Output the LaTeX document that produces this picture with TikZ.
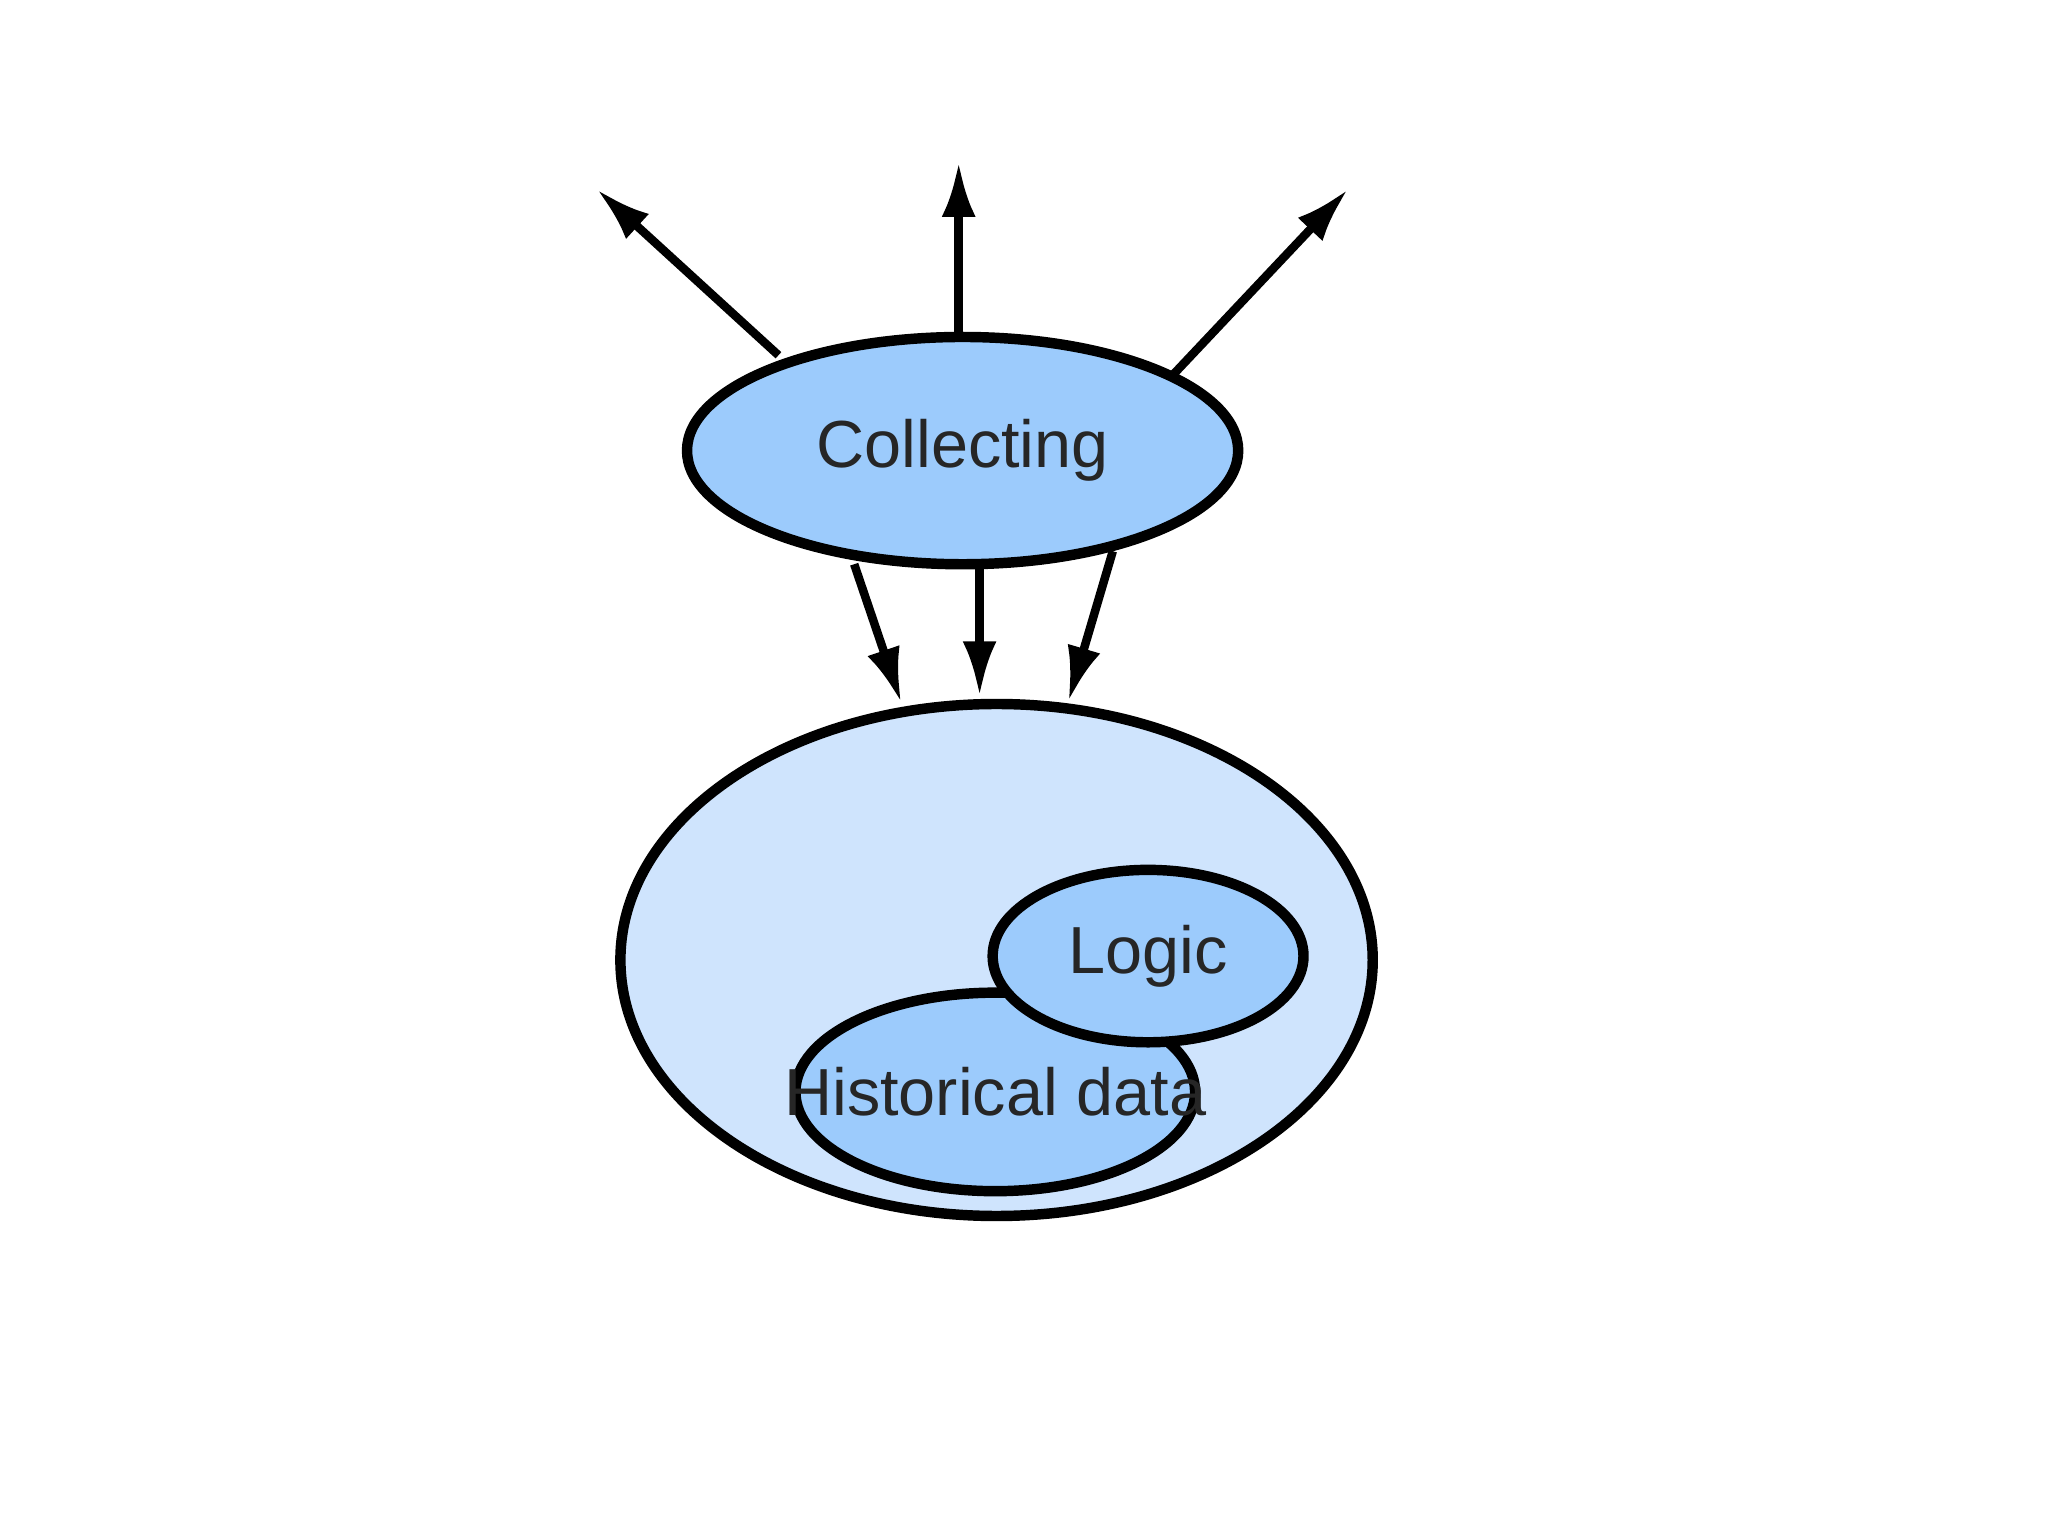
\documentclass[tikz,border=0pt]{standalone}
\usepackage{fontspec}
\setmainfont{Liberation Sans}
\usetikzlibrary{arrows.meta}
\definecolor{midblue}{HTML}{9CCBFC}
\definecolor{lightblue}{HTML}{CFE4FD}
\begin{document}
\begin{tikzpicture}[x=0.01cm,y=-0.01cm,
  ell/.style={draw=black,line width=0.08cm,ellipse},
  conn/.style={line width=0.065cm,-{Latex[length=0.42cm,width=0.26cm]}},
  lbl/.style={font=\fontsize{14.5}{16}\selectfont,text=black!85}]
\useasboundingbox (0,0) rectangle (1568,1176);
% big ellipse
\draw[line width=0.08cm,fill=lightblue] (763,735) ellipse [x radius=288,y radius=196];
\coordinate (bigA) at (690,538);
\coordinate (bigB) at (750,533);
\coordinate (bigC) at (818,537);
% historical
\draw[line width=0.08cm,fill=midblue] (762,836) ellipse [x radius=153,y radius=76];
% logic
\draw[line width=0.08cm,fill=midblue] (879,732) ellipse [x radius=119,y radius=66];
\node[lbl] (logic) at (879,732) {Logic};
\node[lbl] (hist) at (762,836) {Historical data};
% collecting
\draw[line width=0.08cm,fill=midblue] (737,345) ellipse [x radius=211,y radius=87];
\node[lbl] (coll) at (737,345) {Collecting};
\coordinate (c1) at (596,272);
\coordinate (c2) at (734,256);
\coordinate (c3) at (899,286);
\coordinate (d1) at (654,432);
\coordinate (d2) at (750,436);
\coordinate (d3) at (852,422);
\coordinate (t1) at (457,145);
\coordinate (t2) at (734,124);
\coordinate (t3) at (1032,145);
\draw[conn] (c1) -- (t1);
\draw[conn] (c2) -- (t2);
\draw[conn] (c3) -- (t3);
\draw[conn] (d1) -- (bigA);
\draw[conn] (d2) -- (bigB);
\draw[conn] (d3) -- (bigC);
\end{tikzpicture}
\end{document}
